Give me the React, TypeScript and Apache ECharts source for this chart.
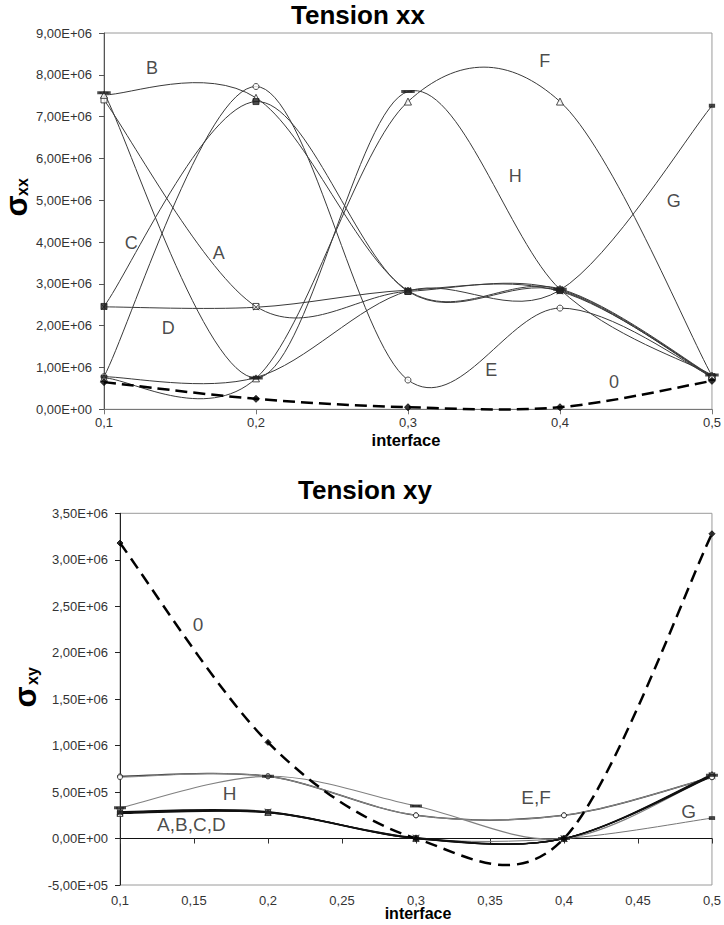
import React, { useEffect, useRef } from 'react';
import * as echarts from 'echarts';

// ---------- data: Tension xx (top) ----------
const TOP_X = [0.1, 0.2, 0.3, 0.4, 0.5];
const XX_0 = [0.65e6, 0.25e6, 0.05e6, 0.05e6, 0.68e6];
const XX_A = [7.4e6, 2.46e6, 2.82e6, 2.86e6, 0.78e6];
const XX_B = [7.52e6, 7.45e6, 2.84e6, 2.88e6, 0.8e6];
const XX_C = [2.46e6, 7.36e6, 2.82e6, 2.84e6, 0.76e6];
const XX_D = [2.45e6, 2.44e6, 2.85e6, 2.82e6, 0.79e6];
const XX_E = [0.78e6, 7.72e6, 0.7e6, 2.42e6, 0.78e6];
const XX_F = [0.75e6, 0.74e6, 7.36e6, 7.36e6, 0.8e6];
const XX_G = [0.78e6, 0.76e6, 2.83e6, 2.85e6, 7.26e6];
const XX_H = [7.57e6, 0.75e6, 7.6e6, 2.87e6, 0.82e6];

// ---------- data: Tension xy (bottom) ----------
const BOT_X = [0.1, 0.2, 0.3, 0.4, 0.5];
const XY_0 = [3.18e6, 1.035e6, 0, 0, 3.28e6];
const XY_A = [0.28e6, 0.285e6, 0.005e6, 0, 0.68e6];
const XY_B = [0.27e6, 0.28e6, 0, 0, 0.69e6];
const XY_C = [0.29e6, 0.29e6, 0, 0, 0.67e6];
const XY_D = [0.28e6, 0.28e6, 0.01e6, 0, 0.68e6];
const XY_E = [0.67e6, 0.67e6, 0.25e6, 0.25e6, 0.66e6];
const XY_F = [0.66e6, 0.67e6, 0.25e6, 0.25e6, 0.66e6];
const XY_G = [0.28e6, 0.28e6, 0, 0, 0.22e6];
const XY_H = [0.33e6, 0.67e6, 0.35e6, 0, 0.68e6];

// ---------- tick labels ----------
const TOP_Y_TICKS = ['0,00E+00', '1,00E+06', '2,00E+06', '3,00E+06', '4,00E+06', '5,00E+06', '6,00E+06', '7,00E+06', '8,00E+06', '9,00E+06'];
const TOP_X_TICKS = ['0,1', '0,2', '0,3', '0,4', '0,5'];
const BOT_Y_TICKS = ['-5,00E+05', '0,00E+00', '5,00E+05', '1,00E+06', '1,50E+06', '2,00E+06', '2,50E+06', '3,00E+06', '3,50E+06'];
const BOT_X_TICKS = ['0,1', '0,15', '0,2', '0,25', '0,3', '0,35', '0,4', '0,45', '0,5'];

// ---------- in-plot annotations (data coordinates) ----------
const TOP_NOTES = [
  { name: 'B', x: 0.1316, y: 8.16e6 },
  { name: 'C', x: 0.118, y: 3.97e6 },
  { name: 'A', x: 0.1755, y: 3.73e6 },
  { name: 'D', x: 0.1422, y: 1.94e6 },
  { name: 'F', x: 0.39, y: 8.32e6 },
  { name: 'H', x: 0.3705, y: 5.57e6 },
  { name: 'G', x: 0.4749, y: 4.97e6 },
  { name: 'E', x: 0.3548, y: 0.94e6 },
  { name: '0', x: 0.4355, y: 0.66e6 },
];
const BOT_NOTES = [
  { name: '0', x: 0.1528, y: 2.3e6 },
  { name: 'H', x: 0.174, y: 0.49e6 },
  { name: 'A,B,C,D', x: 0.1482, y: 0.15e6 },
  { name: 'E,F', x: 0.3812, y: 0.437e6 },
  { name: 'G', x: 0.4843, y: 0.293e6 },
];

const FONT = 'Liberation Sans';

function smoothRender(color: string, width: number, dash?: number[]) {
  return (params: any, api: any) => {
    if (params.dataIndexInside !== 0) return null;
    const n = params.dataInsideLength;
    const pts: number[][] = [];
    for (let i = 0; i < n; i++) pts.push(api.coord([api.value(0, i), api.value(1, i)]));
    let d = `M${pts[0][0]},${pts[0][1]}`;
    for (let i = 0; i < n - 1; i++) {
      const p0 = pts[Math.max(i - 1, 0)];
      const p1 = pts[i];
      const p2 = pts[i + 1];
      const p3 = pts[Math.min(i + 2, n - 1)];
      const c1x = p1[0] + (p2[0] - p0[0]) / 6;
      const c1y = p1[1] + (p2[1] - p0[1]) / 6;
      const c2x = p2[0] - (p3[0] - p1[0]) / 6;
      const c2y = p2[1] - (p3[1] - p1[1]) / 6;
      d += ` C${c1x},${c1y} ${c2x},${c2y} ${p2[0]},${p2[1]}`;
    }
    return {
      type: 'path',
      shape: { pathData: d },
      style: { fill: 'none', stroke: color, lineWidth: width, lineDash: dash || null },
    };
  };
}

function curve(name: string, xs: number[], ys: number[], gi: number, color: string, width: number, dash?: number[]) {
  return {
    type: 'custom',
    name,
    coordinateSystem: 'cartesian2d',
    xAxisIndex: gi,
    yAxisIndex: gi,
    data: xs.map((x, i) => [x, ys[i]]),
    encode: { x: 0, y: 1 },
    renderItem: smoothRender(color, width, dash),
    silent: true,
    clip: false,
    z: 2,
  };
}

const XPATH = 'path://M0,0L10,10M10,0L0,10';
const STAR = 'path://M0,0L10,10M10,0L0,10M5,0L5,10';

function marks(xs: number[], ys: number[], gi: number, symbol: string, size: any, filled: boolean, color = '#222') {
  return {
    type: 'scatter',
    xAxisIndex: gi,
    yAxisIndex: gi,
    data: xs.map((x, i) => [x, ys[i]]),
    symbol,
    symbolSize: size,
    itemStyle: {
      color: filled ? color : '#fff',
      borderColor: color,
      borderWidth: 1,
    },
    silent: true,
    z: 4,
  };
}

function notes(list: { name: string; x: number; y: number }[], gi: number, size: number) {
  return {
    type: 'scatter',
    xAxisIndex: gi,
    yAxisIndex: gi,
    data: list.map((n) => ({ name: n.name, value: [n.x, n.y] })),
    symbolSize: 1,
    itemStyle: { color: 'rgba(0,0,0,0)' },
    label: {
      show: true,
      position: 'inside',
      formatter: '{b}',
      fontSize: size,
      fontFamily: FONT,
      color: '#1a1a1a',
    },
    silent: true,
    z: 5,
  };
}

export default function App() {
  const ref = useRef<HTMLDivElement>(null);
  useEffect(() => {
    if (!ref.current) return;
    const chart = echarts.init(ref.current, null, { renderer: 'svg' });
    const lineC = '#3a3a3a';
    const axisLabel = (fmt: (v: number) => string, margin: number) => ({
      formatter: fmt,
      color: '#333',
      fontSize: 13,
      fontFamily: FONT,
      margin,
    });
    const centered = { align: 'center', verticalAlign: 'middle', textAlign: 'center', textVerticalAlign: 'middle' };
    const option: any = {
      animation: false,
      backgroundColor: '#fff',
      textStyle: { fontFamily: FONT },
      grid: [
        { left: 104, top: 33, right: 9.5, height: 376.3, show: true, borderColor: '#9a9a9a', borderWidth: 1, containLabel: false },
        { left: 120, top: 513.3, right: 8.5, height: 371.7, show: true, borderColor: '#9a9a9a', borderWidth: 1, containLabel: false },
      ],
      xAxis: [
        {
          gridIndex: 0, type: 'value', min: 0.1, max: 0.5, interval: 0.1,
          axisLine: { show: true, lineStyle: { color: '#777' } },
          axisTick: { show: true, length: 5, lineStyle: { color: '#777' } },
          axisLabel: axisLabel((v: number) => TOP_X_TICKS[Math.round((v - 0.1) / 0.1)], 7),
          splitLine: { show: false },
        },
        {
          gridIndex: 1, type: 'value', min: 0.1, max: 0.5, interval: 0.05,
          axisLine: { show: true, onZero: true, lineStyle: { color: '#111' } },
          axisTick: { show: true, length: 5, lineStyle: { color: '#333' } },
          axisLabel: axisLabel((v: number) => BOT_X_TICKS[Math.round((v - 0.1) / 0.05)], 9),
          splitLine: { show: false },
        },
      ],
      yAxis: [
        {
          gridIndex: 0, type: 'value', min: 0, max: 9e6, interval: 1e6,
          axisLine: { show: true, lineStyle: { color: '#555' } },
          axisTick: { show: true, length: 5, lineStyle: { color: '#555' } },
          axisLabel: axisLabel((v: number) => TOP_Y_TICKS[Math.round(v / 1e6)], 12),
          splitLine: { show: false },
        },
        {
          gridIndex: 1, type: 'value', min: -5e5, max: 3.5e6, interval: 5e5,
          axisLine: { show: true, lineStyle: { color: '#222' } },
          axisTick: { show: true, length: 5, lineStyle: { color: '#222' } },
          axisLabel: axisLabel((v: number) => BOT_Y_TICKS[Math.round((v + 5e5) / 5e5)], 12),
          splitLine: { show: false },
        },
      ],
      graphic: [
        { type: 'text', x: 358, y: 15, style: { text: 'Tension xx', font: `bold 26px "${FONT}"`, fill: '#000', ...centered } },
        { type: 'text', x: 365, y: 490, style: { text: 'Tension xy', font: `bold 26px "${FONT}"`, fill: '#000', ...centered } },
        { type: 'text', x: 406, y: 440, style: { text: 'interface', font: `bold 16.5px "${FONT}"`, fill: '#000', ...centered } },
        { type: 'text', x: 418, y: 913, style: { text: 'interface', font: `bold 16px "${FONT}"`, fill: '#000', ...centered } },
        { type: 'text', x: 16, y: 206, rotation: Math.PI / 2, style: { text: 'σ', font: `bold 31px "${FONT}"`, fill: '#000', ...centered } },
        { type: 'text', x: 22.5, y: 187, rotation: Math.PI / 2, style: { text: 'xx', font: `bold 16px "${FONT}"`, fill: '#000', ...centered } },
        { type: 'text', x: 25, y: 697, rotation: Math.PI / 2, style: { text: 'σ', font: `bold 31px "${FONT}"`, fill: '#000', ...centered } },
        { type: 'text', x: 32, y: 676, rotation: Math.PI / 2, style: { text: 'xy', font: `bold 16px "${FONT}"`, fill: '#000', ...centered } },
      ],
      series: [
        // top curves
        curve('A', TOP_X, XX_A, 0, lineC, 1),
        curve('B', TOP_X, XX_B, 0, lineC, 1),
        curve('C', TOP_X, XX_C, 0, lineC, 1),
        curve('D', TOP_X, XX_D, 0, lineC, 1),
        curve('E', TOP_X, XX_E, 0, lineC, 1),
        curve('F', TOP_X, XX_F, 0, lineC, 1),
        curve('G', TOP_X, XX_G, 0, lineC, 1),
        curve('H', TOP_X, XX_H, 0, lineC, 1),
        curve('0', TOP_X, XX_0, 0, '#000', 2.5, [12, 6]),
        marks(TOP_X, XX_A, 0, 'rect', 6, false),
        marks(TOP_X, XX_B, 0, 'triangle', 7, false),
        marks(TOP_X, XX_C, 0, 'rect', 6, true),
        marks(TOP_X, XX_D, 0, XPATH, 6, false),
        marks(TOP_X, XX_E, 0, 'circle', 6, false),
        marks(TOP_X, XX_F, 0, 'triangle', 7, false),
        marks(TOP_X, XX_G, 0, 'rect', [5, 3], true),
        marks(TOP_X, XX_H, 0, 'rect', [9, 2], true),
        marks(TOP_X, XX_0, 0, 'diamond', 7, true, '#000'),
        notes(TOP_NOTES, 0, 18),
        // bottom curves
        curve('E', BOT_X, XY_E, 1, '#444', 1.5),
        curve('F', BOT_X, XY_F, 1, '#888', 1),
        curve('H', BOT_X, XY_H, 1, '#808080', 1.2),
        curve('G', BOT_X, XY_G, 1, '#777', 1),
        curve('A', BOT_X, XY_A, 1, '#111', 1.3),
        curve('B', BOT_X, XY_B, 1, '#111', 1.3),
        curve('C', BOT_X, XY_C, 1, '#111', 1.3),
        curve('D', BOT_X, XY_D, 1, '#111', 1.3),
        curve('0', BOT_X, XY_0, 1, '#000', 2.5, [12, 7]),
        marks(BOT_X, XY_A, 1, 'rect', 5, false),
        marks(BOT_X, XY_B, 1, 'triangle', 6, false),
        marks(BOT_X, XY_C, 1, XPATH, 6, false),
        marks(BOT_X, XY_D, 1, STAR, 6, false),
        marks(BOT_X, XY_E, 1, 'circle', 5, false),
        marks(BOT_X, XY_F, 1, 'circle', 5, false),
        marks(BOT_X, XY_G, 1, 'rect', [5, 3], true),
        marks(BOT_X, XY_H, 1, 'rect', [8, 2], true),
        marks(BOT_X, XY_0, 1, 'diamond', 6, true, '#000'),
        notes(BOT_NOTES, 1, 19),
      ],
    };
    chart.setOption(option);
    return () => chart.dispose();
  }, []);
  return (
    <div
      ref={ref}
      style={{ position: 'absolute', left: 0, top: 0, width: 724, height: 925, background: '#fff' }}
    />
  );
}
